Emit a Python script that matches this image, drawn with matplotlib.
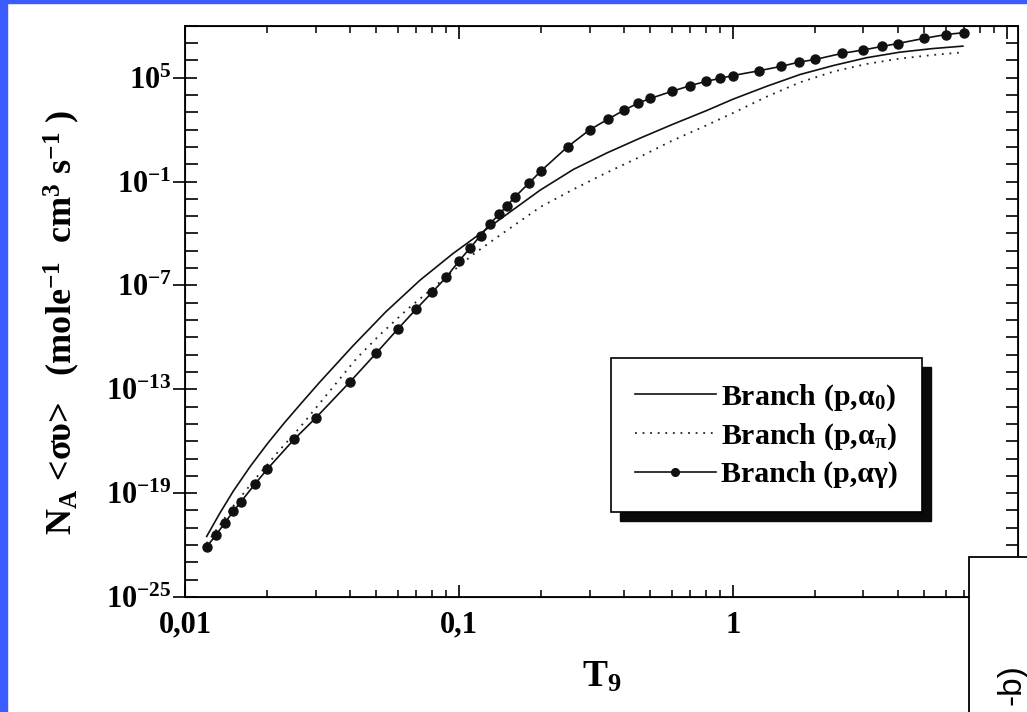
import numpy as np
import matplotlib
matplotlib.use('Agg')
from matplotlib import pyplot as plt
from matplotlib.ticker import FixedLocator, FixedFormatter, NullFormatter, LogLocator
from matplotlib.patches import Rectangle

plt.rcParams['font.family'] = ['Liberation Serif', 'DejaVu Serif']
plt.rcParams['font.weight'] = 'bold'
plt.rcParams['axes.labelweight'] = 'bold'
plt.rcParams['mathtext.fontset'] = 'custom'
plt.rcParams['mathtext.rm'] = 'Liberation Serif:bold'
plt.rcParams['mathtext.it'] = 'Liberation Serif:bold'
plt.rcParams['mathtext.bf'] = 'Liberation Serif:bold'
plt.rcParams['mathtext.default'] = 'rm'

# Branch (p,alpha0) - solid line, log10 of rate
t9_a0 = [0.012, 0.0134, 0.015, 0.0173, 0.02, 0.023, 0.0263, 0.031, 0.041, 0.054,
         0.072, 0.095, 0.12, 0.145, 0.198, 0.262, 0.347, 0.458, 0.607, 0.803,
         1.0, 1.33, 1.76, 2.33, 3.08, 4.07, 5.38, 6.92]
log_a0 = [-21.5, -20.16, -18.89, -17.46, -16.14, -14.96, -13.89, -12.6, -10.5, -8.54,
          -6.71, -5.17, -4.0, -3.05, -1.5, -0.3, 0.65, 1.5, 2.32, 3.1,
          3.75, 4.5, 5.18, 5.7, 6.15, 6.47, 6.68, 6.82]

# Branch (p,alpha_pi) - dotted line
t9_api = [0.012, 0.015, 0.018, 0.0219, 0.0263, 0.0307, 0.0348, 0.0424, 0.0515, 0.0646,
          0.0783, 0.0955, 0.113, 0.137, 0.198, 0.262, 0.34, 0.458, 0.59, 0.803,
          1.0, 1.33, 1.76, 2.33, 3.08, 4.07, 5.38, 6.92]
log_api = [-21.9, -19.75, -18.2, -16.6, -15.2, -13.9, -12.85, -11.2, -9.85, -8.4,
           -7.3, -6.15, -5.2, -4.25, -2.48, -1.45, -0.55, 0.42, 1.3, 2.25,
           2.95, 3.9, 4.73, 5.35, 5.79, 6.1, 6.31, 6.46]

# Branch (p,alpha gamma) - line with filled circles
t9_ag = [0.012, 0.013, 0.014, 0.015, 0.016, 0.018, 0.02, 0.025, 0.03, 0.04,
         0.05, 0.06, 0.07, 0.08, 0.09, 0.1, 0.11, 0.12, 0.13, 0.14,
         0.15, 0.16, 0.18, 0.2, 0.25, 0.3, 0.35, 0.4, 0.45, 0.5,
         0.6, 0.7, 0.8, 0.9, 1.0, 1.25, 1.5, 1.75, 2.0, 2.5,
         3.0, 3.5, 4.0, 5.0, 6.0, 7.0]
log_ag = [-22.1, -21.4, -20.7, -20.06, -19.5, -18.48, -17.6, -15.9, -14.66, -12.58,
          -10.9, -9.5, -8.35, -7.39, -6.52, -5.6, -4.83, -4.12, -3.44, -2.9,
          -2.39, -1.9, -1.1, -0.37, 1.02, 1.98, 2.6, 3.11, 3.52, 3.8,
          4.21, 4.54, 4.79, 4.96, 5.12, 5.4, 5.65, 5.9, 6.05, 6.4,
          6.6, 6.8, 6.97, 7.27, 7.49, 7.6]

labels = ['Branch (p,α$_{0}$)', r'Branch (p,α$_{\pi}$)', 'Branch (p,αγ)']

x_ticks = [0.01, 0.1, 1, 10]
x_ticklabels = ['0,01', '0,1', '1', '10']
y_ticks = [1e-25, 1e-19, 1e-13, 1e-7, 1e-1, 1e5]
y_ticklabels = [r'$10^{-25}$', r'$10^{-19}$', r'$10^{-13}$', r'$10^{-7}$', r'$10^{-1}$', r'$10^{5}$']

blue = '#3b5cfd'
W, H = 1027, 712
fig = plt.figure(figsize=(W / 100, H / 100), dpi=100)
fig.add_artist(Rectangle((0, 0), 7 / W, 1, transform=fig.transFigure, color=blue, zorder=-1))
fig.add_artist(Rectangle((0, 1 - 3 / H), 1, 3 / H, transform=fig.transFigure, color=blue, zorder=-1))

ax = fig.add_axes([185 / W, 1 - 597 / H, (1018 - 185) / W, (597 - 25.7) / H])
ax.set_xscale('log')
ax.set_yscale('log')

ax.plot(t9_a0, 10.0 ** np.array(log_a0), color='#111111', lw=1.2, label=labels[0])
ax.plot(t9_api, 10.0 ** np.array(log_api), color='#222222', lw=1.3, ls=(0, (1, 3.2)), label=labels[1])
ax.plot(t9_ag, 10.0 ** np.array(log_ag), color='#111111', lw=1.2, marker='o', ms=6.5,
        label=labels[2])

ax.set_xlim(0.01, 11)
ax.set_ylim(1e-25, 1e8)

ax.xaxis.set_major_locator(FixedLocator(x_ticks))
ax.xaxis.set_major_formatter(FixedFormatter(x_ticklabels))
ax.xaxis.set_minor_locator(LogLocator(base=10, subs=range(2, 10)))
ax.xaxis.set_minor_formatter(NullFormatter())
ax.yaxis.set_major_locator(FixedLocator(y_ticks))
ax.yaxis.set_major_formatter(FixedFormatter(y_ticklabels))
ax.yaxis.set_minor_locator(FixedLocator([10.0 ** k for k in range(-25, 9)]))
ax.yaxis.set_minor_formatter(NullFormatter())

ax.tick_params(axis='x', which='major', direction='in', length=9, width=1.2, top=True,
               pad=10, labelsize=22)
ax.tick_params(axis='x', which='minor', direction='in', length=5, width=1.1, top=True)
ax.tick_params(axis='y', which='major', direction='inout', length=17, width=1.2, right=False,
               pad=1, labelsize=22)
ax.tick_params(axis='y', which='minor', direction='in', length=9, width=1.2, right=False)
for s in ax.spines.values():
    s.set_linewidth(1.3)

# right side ticks, all pointing in
ax2 = ax.twinx()
ax2.set_yscale('log')
ax2.set_ylim(ax.get_ylim())
ax2.yaxis.set_major_locator(FixedLocator([10.0 ** k for k in range(-25, 9)]))
ax2.yaxis.set_major_formatter(NullFormatter())
ax2.yaxis.set_minor_locator(FixedLocator([]))
ax2.tick_params(axis='y', which='major', direction='in', length=9, width=1.2)

ax.set_xlabel('T$_{9}$', fontsize=27)
ax.xaxis.set_label_coords(0.5, -0.11)
ax.set_ylabel('N$_{A}$ <συ>   (mole$^{-1}$  cm$^{3}$ s$^{-1}$ )', fontsize=26)
ax.yaxis.set_label_coords(-0.124, 0.48)

leg = ax2.legend(*ax.get_legend_handles_labels(), loc='upper left',
                 bbox_to_anchor=(611 / W, 1 - 358 / H), bbox_transform=fig.transFigure,
                 fancybox=False, framealpha=1, edgecolor='black', fontsize=21.5,
                 handlelength=2.7, handletextpad=0.2, labelspacing=0.3,
                 borderpad=0.8, borderaxespad=0, numpoints=1, markerscale=0.85)
leg.get_frame().set_linewidth(1.2)
leg.set_zorder(6)

fig.canvas.draw()
bb = leg.get_window_extent()
ax2.add_patch(Rectangle(((bb.x0 + 9) / W, (bb.y0 - 9) / H), bb.width / W, bb.height / H,
                        transform=fig.transFigure, color='#0a0a0a', zorder=5, clip_on=False))

# neighbouring panel peeking in at the bottom right corner
fig.add_artist(Rectangle((969 / W, -0.05), 0.1, (712 - 557) / H + 0.05, transform=fig.transFigure,
                         facecolor='white', edgecolor='black', lw=1.3, zorder=10))
fig.text(1012 / W, 1 - 664 / H, '-b)', rotation=90, ha='center', va='top', fontsize=24,
         family='Liberation Sans', fontweight='normal', zorder=11)

fig.savefig('out.png', dpi=100)
